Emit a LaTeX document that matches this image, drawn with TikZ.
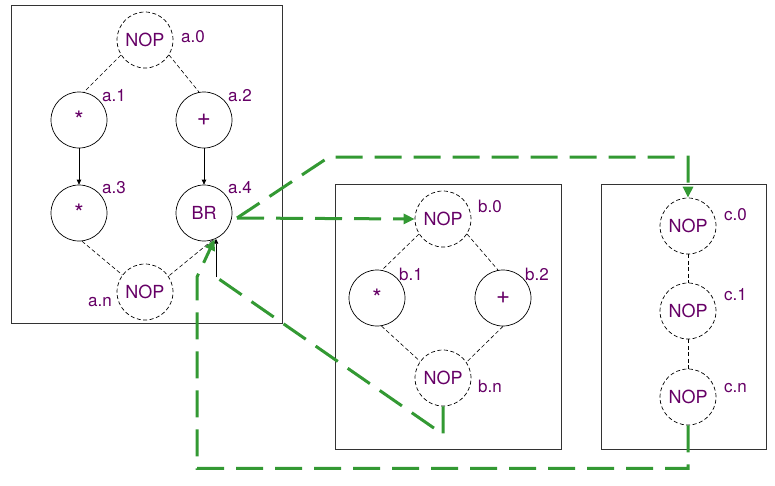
\documentclass[tikz,border=0pt]{standalone}
\usepackage{fontspec}
\setmainfont{TeX Gyre Heros}
\usetikzlibrary{arrows.meta}
\definecolor{opcol}{RGB}{102,0,102}
\definecolor{flowgreen}{RGB}{51,153,51}
\definecolor{boxgray}{RGB}{51,51,51}
\begin{document}
\begin{tikzpicture}[x=1pt,y=-1pt,
  opnode/.style={circle, draw=black, line width=0.7pt, minimum size=56pt, inner sep=0pt, text=opcol, font=\fontsize{18}{20}\selectfont},
  bigop/.style={opnode, font=\fontsize{24}{26}\selectfont},
  nopnode/.style={opnode, dash pattern=on 4pt off 2.5pt},
  lbl/.style={anchor=base west, inner sep=0pt, text=opcol, font=\fontsize{17}{19}\selectfont},
  link/.style={line width=0.6pt, dash pattern=on 4pt off 2.5pt},
  seq/.style={line width=0.7pt, -{Triangle[length=5pt,width=4.5pt]}},
  flow/.style={draw=flowgreen, line width=3pt, dash pattern=on 27pt off 12pt},
  flowarrow/.style={flow, -{Triangle[length=11pt,width=10pt]}},
  frame/.style={draw=boxgray, line width=0.9pt}]
\useasboundingbox (0,0) rectangle (775,485);

% frames
\draw[frame] (11,5) rectangle (282,323);
\draw[frame] (335,184) rectangle (561,449);
\draw[frame] (601,184) rectangle (766,449);

% block a
\node[nopnode] (a0) at (145,40) {NOP};
\node[bigop] (a1) at (79,120) {\raisebox{-0.15em}{*}};
\node[bigop] (a2) at (204,120) {+};
\node[bigop] (a3) at (79,213) {\raisebox{-0.15em}{*}};
\node[opnode] (a4) at (204,213) {BR};
\node[nopnode] (an) at (145,292) {NOP};

% block b
\node[nopnode] (b0) at (443,219) {NOP};
\node[bigop] (b1) at (377,298) {\raisebox{-0.15em}{*}};
\node[bigop] (b2) at (503,298) {+};
\node[nopnode] (bn) at (443,378) {NOP};

% block c
\node[nopnode] (c0) at (688,226) {NOP};
\node[nopnode] (c1) at (688,311) {NOP};
\node[nopnode] (cn) at (688,397) {NOP};

% labels
\node[lbl] (la0) at (181,42) {a.0};
\node[lbl] (la1) at (102,101) {a.1};
\node[lbl] (la2) at (228,101) {a.2};
\node[lbl] (la3) at (102,193) {a.3};
\node[lbl] (la4) at (228,193) {a.4};
\node[lbl] (lan) at (88,306) {a.n};
\node[lbl] (lb0) at (478,212) {b.0};
\node[lbl] (lb1) at (399,280) {b.1};
\node[lbl] (lb2) at (525,280) {b.2};
\node[lbl] (lbn) at (478,392) {b.n};
\node[lbl] (lc0) at (724,220) {c.0};
\node[lbl] (lc1) at (724,300) {c.1};
\node[lbl] (lcn) at (724,392) {c.n};

% links in a
\draw[link] (a0.212) -- (a1.80);
\draw[link] (a0.328) -- (a2.100);
\draw[seq] (a1) -- (a3);
\draw[seq] (a2) -- (a4);
\draw[link] (a3.276) -- (an.143);
\draw[link] (a4.288) -- (an.34);

% links in b
\draw[link] (b0.212) -- (b1.80);
\draw[link] (b0.328) -- (b2.100);
\draw[link] (b1.279) -- (bn.144);
\draw[link] (b2.270) -- (bn.34);

% links in c
\draw[link] (c0) -- (c1);
\draw[link] (c1) -- (cn);

% control flow
\coordinate (brout) at (237,218);
\coordinate (upbend) at (329,157);
\coordinate (bdiag) at (216,277);
\coordinate (lcorner) at (197,277);
\draw[flowarrow] (brout) -- (b0.west);
\draw[flowarrow] (brout) -- (upbend) -| (c0.north);
\draw[flow] (bn.south) -- ++(0,28) -- (bdiag);
\draw[seq] (bdiag) -- (bdiag |- a4.-65);
\draw[flowarrow] (cn.south) -- ++(0,43) -| (lcorner) -- (a4.-68);
\end{tikzpicture}
\end{document}
